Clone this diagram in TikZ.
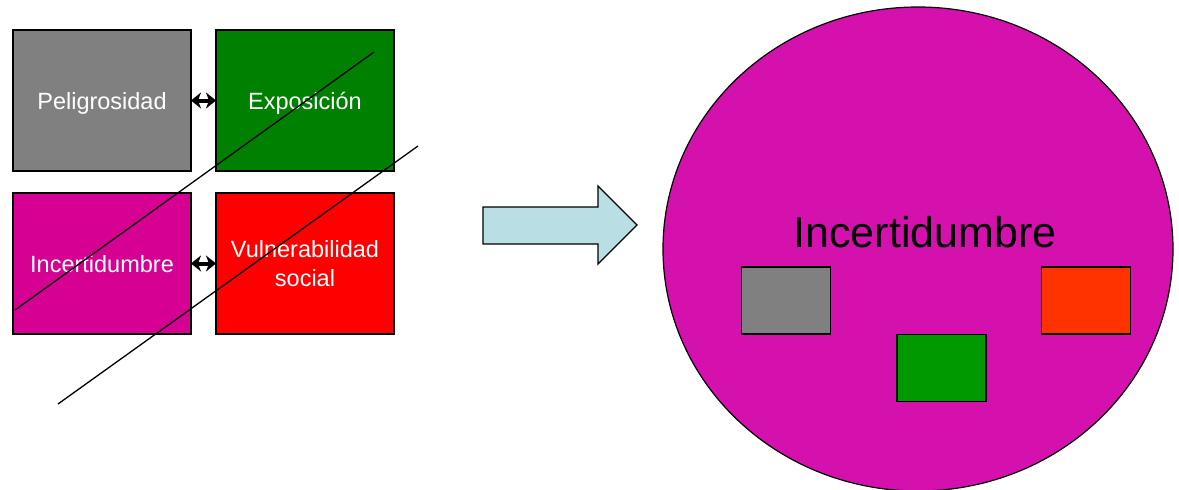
\documentclass[tikz,border=0pt]{standalone}
\usepackage{fontspec}
\setmainfont{Liberation Sans}
\usetikzlibrary{arrows.meta}
\definecolor{gris}{RGB}{128,128,128}
\definecolor{verde}{RGB}{0,128,0}
\definecolor{morado}{RGB}{214,0,147}
\definecolor{rojo}{RGB}{255,0,0}
\definecolor{elipse}{RGB}{212,16,173}
\definecolor{verdeb}{RGB}{0,153,0}
\definecolor{naranja}{RGB}{255,51,0}
\definecolor{flecha}{RGB}{185,223,228}
\tikzset{
  caja/.style={draw=black, line width=1.2pt, minimum width=178pt, minimum height=141pt,
    inner sep=0pt, outer sep=0pt, text=white, font=\fontsize{23.5}{29}\selectfont},
  una/.style={text height=17pt, text depth=0pt},
  cajita/.style={draw=black, line width=1.2pt, minimum width=89pt, minimum height=67pt, inner sep=0pt},
  dobleflecha/.style={line width=4pt, {Stealth[length=10pt,width=16pt,inset=3pt]}-{Stealth[length=10pt,width=16pt,inset=3pt]}},
}
\begin{document}
\begin{tikzpicture}[x=1pt,y=-1pt]
        \useasboundingbox (0,0) rectangle (1179,490);
        \node[caja,una,fill=gris] (peli) at (102,100.5) {Peligrosidad};
        \node[caja,una,fill=verde] (expo) at (305,100.5) {Exposición};
        \node[caja,una,fill=morado] (incer) at (102,263.5) {Incertidumbre};
        \node[caja,fill=rojo,align=center] (vulne) at (305,263.5) {Vulnerabilidad\\social};
        \draw[dobleflecha] (peli.east) -- (expo.west);
        \draw[dobleflecha] (incer.east) -- (vulne.west);
        \coordinate (r1a) at (15,310);
        \coordinate (r1b) at (374,52);
        \coordinate (r2a) at (58,404);
        \coordinate (r2b) at (418,146);
        \draw[line width=1.3pt] (r1a) -- (r1b);
        \draw[line width=1.3pt] (r2a) -- (r2b);
        \draw[line width=1.3pt, fill=flecha] (483,207) -- (598,207) -- (598,186) -- (637,225)
            -- (598,264) -- (598,244) -- (483,244) -- cycle;
        \draw[line width=1.2pt, fill=elipse] (918,249) ellipse (255 and 242);
        \node[anchor=base, font=\fontsize{43}{50}\selectfont] (titulo) at (925,247) {Incertidumbre};
        \node[cajita,fill=gris] (cgris) at (786,300.5) {};
        \node[cajita,fill=verdeb] (cverde) at (941.5,368) {};
        \node[cajita,fill=naranja] (cnaranja) at (1086,300.5) {};
\end{tikzpicture}
\end{document}
